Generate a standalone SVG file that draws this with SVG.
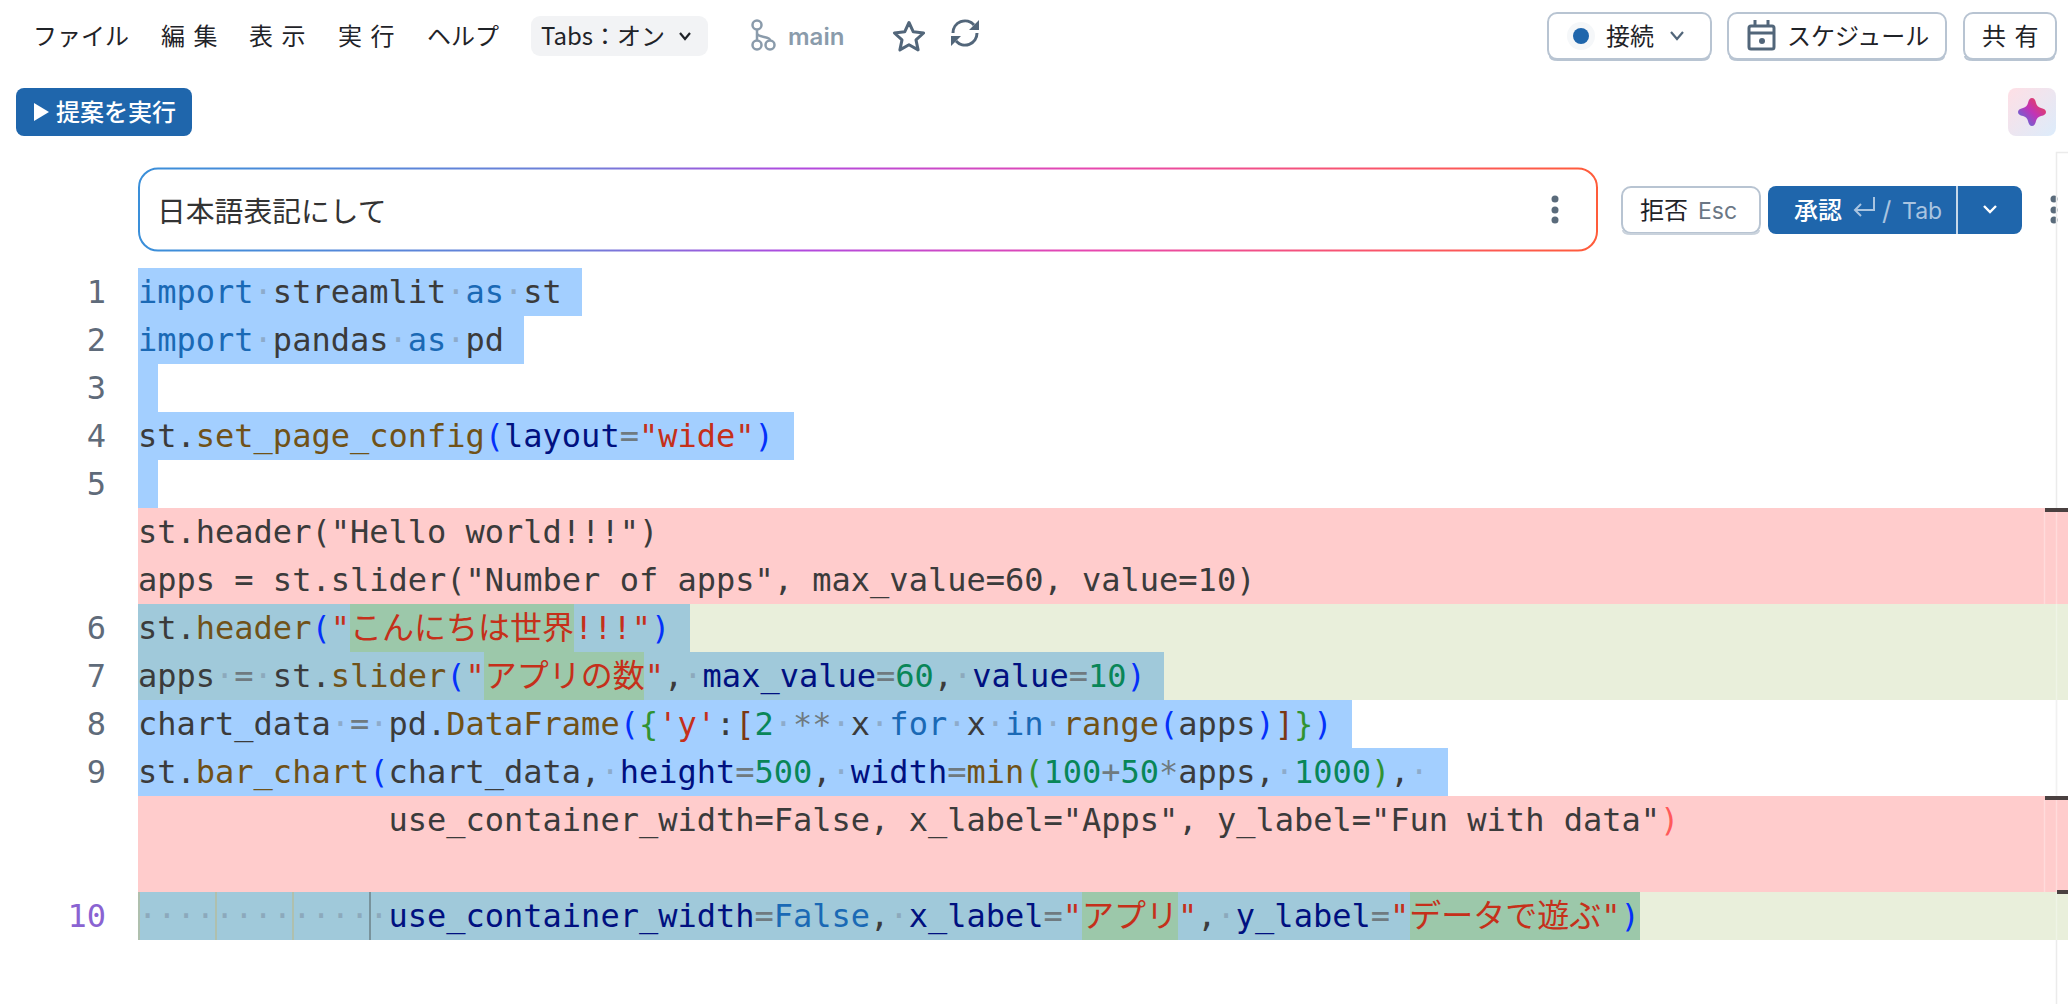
<svg xmlns="http://www.w3.org/2000/svg" width="2068" height="1004" viewBox="0 0 2068 1004">
<style>
text{white-space:pre}
.ui{font-family:"Noto Sans CJK JP","Noto Sans",sans-serif;font-size:24px;fill:#1f2328}
.gap{word-spacing:3px}
.w{fill:#fff;font-weight:500}
.code{font-family:"DejaVu Sans Mono","Noto Sans CJK JP",monospace;font-size:32px;fill:#3b3b3b}
.ln{font-family:"DejaVu Sans Mono",monospace;font-size:32px;fill:#5f6b7a;text-anchor:end}
.k{fill:#1a69b5}.f{fill:#705218}.p{fill:#001080}.s{fill:#c5301a}.b{fill:#0431fa}.g{fill:#319331}.r{fill:#7b3814}.n{fill:#098658}.o{fill:#6f7a80}.d{fill:#7f94a8;fill-opacity:.6}
.btn{fill:#fff;stroke:#b8c4d2;stroke-width:2}
.blue{fill:#a3cfff}.teal{fill:#a0c9da}.hl{fill:#9cc8aa}.red{fill:#ffcccc}.grn{fill:#e9efdb}
.ic{fill:none;stroke:#52667a;stroke-width:3;stroke-linejoin:round}
.dot{fill:#5a6b7b}
.hint{font-family:"Inter",sans-serif;font-size:23px}
</style>
<defs>
<linearGradient id="gb" x1="138" y1="0" x2="1597" y2="0" gradientUnits="userSpaceOnUse">
<stop offset="0" stop-color="#3a8fd9"/><stop offset=".3" stop-color="#6f7fd8"/><stop offset=".45" stop-color="#b04adf"/><stop offset=".65" stop-color="#e647b0"/><stop offset=".85" stop-color="#f9556a"/><stop offset="1" stop-color="#ff5c3a"/>
</linearGradient>
<linearGradient id="gs" x1="0" y1="0" x2="1" y2="1"><stop offset="0" stop-color="#ffdfe5"/><stop offset="1" stop-color="#dcecfb"/></linearGradient>
<linearGradient id="gt" x1="1" y1="0" x2="0" y2="1"><stop offset="0" stop-color="#f5443a"/><stop offset=".5" stop-color="#c034b8"/><stop offset="1" stop-color="#3f7fe0"/></linearGradient>
</defs>
<rect width="2068" height="1004" fill="#fff"/>

<g id="menu">
<text class="ui" x="33" y="44.500">ファイル</text>
<text class="ui gap" x="161" y="44.500">編 集</text>
<text class="ui gap" x="249" y="44.500">表 示</text>
<text class="ui gap" x="338" y="44.500">実 行</text>
<text class="ui" x="427" y="44.500">ヘルプ</text>
</g>
<g id="tabs-chip">
<rect x="531" y="16" width="177" height="40" rx="9" fill="#f2f3f5"/>
<text class="ui" x="541" y="44.500">Tabs：オン</text>
<path d="M680 33l5 6 5-6" fill="none" stroke="#1f2328" stroke-width="2.200"/>
</g>
<g id="branch">
<g fill="none" stroke="#8a9bab" stroke-width="2.500"><circle cx="757" cy="25" r="4.500"/><circle cx="757" cy="45" r="4.500"/><circle cx="770" cy="45" r="4.500"/><path d="M757 30v10M757 33c0 5 13 3 13 7"/></g>
<text x="788" y="45" font-family="Inter,sans-serif" font-size="24" font-weight="600" fill="#8a9bab">main</text>
</g>
<g id="star"><path class="ic" d="M909 22.500l4.300 9.300 10.300 1.200-7.600 6.900 2.100 10-9.100-5.100-9.100 5.100 2.100-10-7.600-6.900 10.300-1.200z"/></g>
<g id="refresh">
<path class="ic" d="M953 33a12 12 0 0 1 21-8M977 33a12 12 0 0 1-21 8"/>
<path d="M979 20v10h-10zM951 46v-10h10z" fill="#52667a"/>
</g>

<g id="connect">
<rect class="btn" x="1548" y="13" width="163" height="46" rx="9"/>
<path d="M1550 56q0 4 8 4h143q8 0 8-4" fill="none" stroke="#b8c4d2" stroke-width="2"/>
<circle cx="1581" cy="36" r="14" fill="#f5f7f9"/><circle cx="1581" cy="36" r="8" fill="#1f66ac"/>
<text class="ui" x="1606" y="45">接続</text>
<path d="M1671 32l6 7 6-7" fill="none" stroke="#52667a" stroke-width="2.200"/>
</g>
<g id="schedule">
<rect class="btn" x="1728" y="13" width="218" height="46" rx="9"/>
<path d="M1730 56q0 4 8 4h198q8 0 8-4" fill="none" stroke="#b8c4d2" stroke-width="2"/>
<rect x="1749" y="26" width="25" height="23" rx="2" fill="none" stroke="#52667a" stroke-width="3"/>
<path d="M1749 33h25M1755 20v6M1768 20v6" stroke="#52667a" stroke-width="3"/><circle cx="1762" cy="41" r="3" fill="#52667a"/>
<text class="ui" x="1787" y="45">スケジュール</text>
</g>
<g id="share">
<rect class="btn" x="1964" y="13" width="92" height="46" rx="9"/>
<path d="M1965 56q0 4 8 4h73q8 0 8-4" fill="none" stroke="#b8c4d2" stroke-width="2"/>
<text class="ui gap" x="1982" y="45">共 有</text>
</g>

<g id="run-suggestion">
<rect x="16" y="88" width="176" height="48" rx="8" fill="#1f66ac"/>
<path d="M34 103l15 9-15 9z" fill="#fff"/>
<text class="ui w" x="56" y="121">提案を実行</text>
</g>
<g id="assistant">
<rect x="2008" y="88" width="48" height="48" rx="8" fill="url(#gs)"/>
<path d="M2032 98q3 0 4 5q1 4 5 5q5 1 5 4q0 3-5 4q-4 1-5 5q-1 5-4 5q-3 0-4-5q-1-4-5-5q-5-1-5-4q0-3 5-4q4-1 5-5q1-5 4-5z" fill="url(#gt)"/>
</g>

<g id="prompt">
<rect x="139" y="168.500" width="1458" height="82" rx="19" fill="#fff" stroke="url(#gb)" stroke-width="2"/>
<text class="ui" x="157" y="222" style="font-size:28.800px;fill:#333">日本語表記にして</text>
<circle class="dot" cx="1555" cy="199" r="3.500"/><circle class="dot" cx="1555" cy="210" r="3.500"/><circle class="dot" cx="1555" cy="220" r="3.500"/>
</g>
<g id="reject">
<rect class="btn" x="1622" y="187" width="138" height="46" rx="9"/>
<path d="M1623 230q0 4 8 4h120q8 0 8-4" fill="none" stroke="#c9d2dc" stroke-width="2"/>
<text class="ui" x="1640" y="219">拒否</text>
<text class="hint" x="1698" y="219" fill="#6b7785">Esc</text>
</g>
<g id="accept">
<rect x="1768" y="186" width="254" height="48" rx="8" fill="#1f66ac"/>
<text class="ui w" x="1794" y="219">承認</text>
<path d="M1874 197v13h-19M1861 204l-6 6 6 6" fill="none" stroke="#a9c4e0" stroke-width="2"/>
<text x="1882" y="220" font-family="Inter,sans-serif" font-size="26" fill="#a9c4e0">/</text>
<text class="hint" x="1902" y="219" fill="#a9c4e0">Tab</text>
<path d="M1957 186v48" stroke="#fff" stroke-width="1.500"/>
<path d="M1984 206l6 6 6-6" fill="none" stroke="#fff" stroke-width="2.400"/>
</g>
<g id="more"><circle class="dot" cx="2054" cy="199" r="3.500"/><circle class="dot" cx="2054" cy="210" r="3.500"/><circle class="dot" cx="2054" cy="220" r="3.500"/></g>

<g id="minimap-edge">
<path d="M2068 152.500h-11.500V1004" fill="none" stroke="#ebebeb" stroke-width="1.500"/>
</g>
<g id="row-backgrounds">
<rect class="blue" x="138" y="268" width="444" height="48"/>
<rect class="blue" x="138" y="316" width="386" height="48"/>
<rect class="blue" x="138" y="364" width="20" height="48"/>
<rect class="blue" x="138" y="412" width="656" height="48"/>
<rect class="blue" x="138" y="460" width="20" height="48"/>
<rect class="red" x="138" y="508" width="1930" height="96"/>
<rect class="grn" x="138" y="604" width="1930" height="96"/>
<rect class="teal" x="138" y="604" width="552" height="48"/>
<rect class="hl" x="350" y="604" width="224" height="48"/>
<rect class="teal" x="138" y="652" width="1026" height="48"/>
<rect class="hl" x="484" y="652" width="160" height="48"/>
<rect class="blue" x="138" y="700" width="1214" height="48"/>
<rect class="blue" x="138" y="748" width="1310" height="48"/>
<rect class="red" x="138" y="796" width="1930" height="96"/>
<rect class="grn" x="138" y="892" width="1930" height="48"/>
<rect class="teal" x="138" y="892" width="1502" height="48"/>
<rect class="hl" x="1082" y="892" width="96" height="48"/>
<rect class="hl" x="1410" y="892" width="230" height="48"/>
</g>
<g id="indent-guides" stroke-width="1.500">
<path d="M139 892v48M216 892v48M293 892v48" stroke="#b4bda0"/>
<path d="M370 892v48" stroke="#6d8087"/>
</g>
<g id="overview-marks">
<path d="M2056.500 508v432M2044.500 512v92M2044.500 800v92" stroke="#fff" stroke-opacity=".3" stroke-width="1.500" fill="none"/>
<path d="M2045 508h23v4h-23zM2045 796h23v4h-23zM2057 890h11v4h-11z" fill="#4a4040"/>
</g>

<g id="line-numbers">
<text class="ln" x="106" y="302.500">1</text>
<text class="ln" x="106" y="350.500">2</text>
<text class="ln" x="106" y="398.500">3</text>
<text class="ln" x="106" y="446.500">4</text>
<text class="ln" x="106" y="494.500">5</text>
<text class="ln" x="106" y="638.500">6</text>
<text class="ln" x="106" y="686.500">7</text>
<text class="ln" x="106" y="734.500">8</text>
<text class="ln" x="106" y="782.500">9</text>
<text class="ln" x="106" y="926.500" style="fill:#8a63d2">10</text>
</g>

<g id="code">
<text class="code" x="138" y="302.500"><tspan class="k">import</tspan><tspan class="d">·</tspan>streamlit<tspan class="d">·</tspan><tspan class="k">as</tspan><tspan class="d">·</tspan>st</text>
<text class="code" x="138" y="350.500"><tspan class="k">import</tspan><tspan class="d">·</tspan>pandas<tspan class="d">·</tspan><tspan class="k">as</tspan><tspan class="d">·</tspan>pd</text>
<text class="code" x="138" y="446.500">st.<tspan class="f">set_page_config</tspan><tspan class="b">(</tspan><tspan class="p">layout</tspan><tspan class="o">=</tspan><tspan class="s">"wide"</tspan><tspan class="b">)</tspan></text>
<text class="code" x="138" y="542.500">st.header("Hello world!!!")</text>
<text class="code" x="138" y="590.500">apps = st.slider("Number of apps", max_value=60, value=10)</text>
<text class="code" x="138" y="638.500">st.<tspan class="f">header</tspan><tspan class="b">(</tspan><tspan class="s">"こんにちは世界!!!"</tspan><tspan class="b">)</tspan></text>
<text class="code" x="138" y="686.500">apps<tspan class="d">·</tspan><tspan class="o">=</tspan><tspan class="d">·</tspan>st.<tspan class="f">slider</tspan><tspan class="b">(</tspan><tspan class="s">"アプリの数"</tspan>,<tspan class="d">·</tspan><tspan class="p">max_value</tspan><tspan class="o">=</tspan><tspan class="n">60</tspan>,<tspan class="d">·</tspan><tspan class="p">value</tspan><tspan class="o">=</tspan><tspan class="n">10</tspan><tspan class="b">)</tspan></text>
<text class="code" x="138" y="734.500">chart_data<tspan class="d">·</tspan><tspan class="o">=</tspan><tspan class="d">·</tspan>pd.<tspan class="f">DataFrame</tspan><tspan class="b">(</tspan><tspan class="g">{</tspan><tspan class="s">'y'</tspan>:<tspan class="r">[</tspan><tspan class="n">2</tspan><tspan class="d">·</tspan><tspan class="o">**</tspan><tspan class="d">·</tspan>x<tspan class="d">·</tspan><tspan class="k">for</tspan><tspan class="d">·</tspan>x<tspan class="d">·</tspan><tspan class="k">in</tspan><tspan class="d">·</tspan><tspan class="f">range</tspan><tspan class="b">(</tspan>apps<tspan class="b">)</tspan><tspan class="r">]</tspan><tspan class="g">}</tspan><tspan class="b">)</tspan></text>
<text class="code" x="138" y="782.500">st.<tspan class="f">bar_chart</tspan><tspan class="b">(</tspan>chart_data,<tspan class="d">·</tspan><tspan class="p">height</tspan><tspan class="o">=</tspan><tspan class="n">500</tspan>,<tspan class="d">·</tspan><tspan class="p">width</tspan><tspan class="o">=</tspan><tspan class="f">min</tspan><tspan class="g">(</tspan><tspan class="n">100</tspan><tspan class="o">+</tspan><tspan class="n">50</tspan><tspan class="o">*</tspan>apps,<tspan class="d">·</tspan><tspan class="n">1000</tspan><tspan class="g">)</tspan>,<tspan class="d">·</tspan></text>
<text class="code" x="138" y="830.500">             use_container_width=False, x_label="Apps", y_label="Fun with data"<tspan fill="#ff5a5a">)</tspan></text>
<text class="code" x="138" y="926.500"><tspan class="d">·············</tspan><tspan class="p">use_container_width</tspan><tspan class="o">=</tspan><tspan class="k">False</tspan>,<tspan class="d">·</tspan><tspan class="p">x_label</tspan><tspan class="o">=</tspan><tspan class="s">"アプリ"</tspan>,<tspan class="d">·</tspan><tspan class="p">y_label</tspan><tspan class="o">=</tspan><tspan class="s">"データで遊ぶ"</tspan><tspan class="b">)</tspan></text>
</g>
</svg>
